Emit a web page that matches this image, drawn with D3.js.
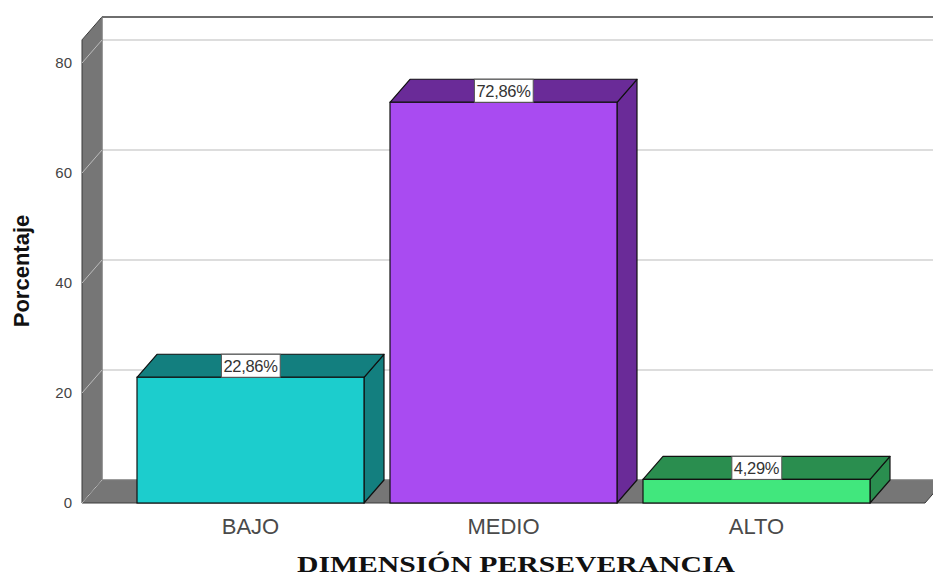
<!DOCTYPE html>
<html>
<head>
<meta charset="utf-8">
<script src="https://cdn.jsdelivr.net/npm/d3@7"></script>
<style>
  html, body { margin: 0; padding: 0; background: #ffffff; }
  svg { display: block; }
</style>
</head>
<body>
<svg id="chart" width="933" height="578"></svg>
<script>
// Porcentaje por nivel de la dimensión perseverancia
const categories = ["BAJO", "MEDIO", "ALTO"];
const percentages = [22.86, 72.86, 4.29];
const valueLabels = ["22,86%", "72,86%", "4,29%"];
const yTicks = [0, 20, 40, 60, 80];
const frontColors = ["#1ccdcd", "#a94bf1", "#41e77d"];
const sideColors = ["#137f7f", "#6a2b98", "#2a8e4f"];

const svg = d3.select("#chart");
const W = 933, H = 578;

// front plane of the 3D box and its depth offset
const left = 82, right = 925, base = 503;
const dx = 20, dy = -23;

const y = d3.scaleLinear().domain([0, 80]).range([base, 63]);
const yMax = 84.2;
const x = d3.scaleBand().domain(categories).range([left, right])
  .paddingInner(0.1028).paddingOuter(0.2174);

const g = svg.append("g");
const poly = pts => pts.map(p => p.join(",")).join(" ");

// back wall gridlines
yTicks.forEach(t => {
  if (t > 0) {
    g.append("line")
      .attr("x1", left + dx).attr("x2", W)
      .attr("y1", y(t) + dy).attr("y2", y(t) + dy)
      .attr("stroke", "#d2d2d2").attr("stroke-width", 1.5);
  }
});

// top edge of the back wall
g.append("line")
  .attr("x1", left + dx).attr("x2", W)
  .attr("y1", y(yMax) + dy).attr("y2", y(yMax) + dy)
  .attr("stroke", "#6e6e6e").attr("stroke-width", 2);

// left wall
g.append("polygon")
  .attr("points", poly([[left, y(yMax)], [left + dx, y(yMax) + dy], [left + dx, base + dy], [left, base]]))
  .attr("fill", "#767676").attr("stroke", "#3a3a3a").attr("stroke-width", 1);

// floor
g.append("polygon")
  .attr("points", poly([[left, base], [left + dx, base + dy], [right + dx, base + dy], [right, base]]))
  .attr("fill", "#767676").attr("stroke", "#3a3a3a").attr("stroke-width", 1);

// inner edges of the wall and floor
g.append("line")
  .attr("x1", left + dx).attr("x2", left + dx)
  .attr("y1", y(yMax) + dy).attr("y2", base + dy)
  .attr("stroke", "#9a9a9a").attr("stroke-width", 1);
g.append("line")
  .attr("x1", left + dx).attr("x2", right + dx)
  .attr("y1", base + dy).attr("y2", base + dy)
  .attr("stroke", "#9a9a9a").attr("stroke-width", 1);

// diagonal grid on the left wall
yTicks.forEach(t => {
  g.append("line")
    .attr("x1", left).attr("y1", y(t))
    .attr("x2", left + dx).attr("y2", y(t) + dy)
    .attr("stroke", "#bdbdbd").attr("stroke-width", 1);
});

// y tick labels
g.selectAll("text.ytick").data(yTicks).join("text")
  .attr("class", "ytick")
  .attr("x", left - 10).attr("y", d => y(d))
  .attr("dy", "0.35em")
  .attr("text-anchor", "end")
  .attr("font-family", "Arial, 'Liberation Sans', sans-serif")
  .attr("font-size", 15)
  .attr("fill", "#444")
  .text(d => d);

// bars
const bars = g.selectAll("g.bar").data(categories).join("g").attr("class", "bar");
bars.each(function (c, i) {
  const b = d3.select(this);
  const x0 = x(c), x1 = x(c) + x.bandwidth();
  const yt = y(percentages[i]);
  // right side
  b.append("polygon")
    .attr("points", poly([[x1, yt], [x1 + dx, yt + dy], [x1 + dx, base + dy], [x1, base]]))
    .attr("fill", sideColors[i]).attr("stroke", "#111").attr("stroke-width", 1.2)
    .attr("stroke-linejoin", "round");
  // top
  b.append("polygon")
    .attr("points", poly([[x0, yt], [x0 + dx, yt + dy], [x1 + dx, yt + dy], [x1, yt]]))
    .attr("fill", sideColors[i]).attr("stroke", "#111").attr("stroke-width", 1.2)
    .attr("stroke-linejoin", "round");
  // front
  b.append("rect")
    .attr("x", x0).attr("y", yt)
    .attr("width", x1 - x0).attr("height", base - yt)
    .attr("fill", frontColors[i]).attr("stroke", "#111").attr("stroke-width", 1.2);

  // value label on the top face
  const cx = (x0 + x1) / 2;
  const label = b.append("g");
  const txt = label.append("text")
    .attr("x", cx).attr("y", yt + dy / 2)
    .attr("dy", "0.36em")
    .attr("text-anchor", "middle")
    .attr("font-family", "Arial, 'Liberation Sans', sans-serif")
    .attr("font-size", 16.5)
    .attr("letter-spacing", -0.3)
    .attr("fill", "#333")
    .text(valueLabels[i]);
  const bb = txt.node().getBBox();
  label.insert("rect", "text")
    .attr("x", bb.x - 2).attr("y", yt + dy)
    .attr("width", bb.width + 4).attr("height", -dy)
    .attr("fill", "#fff").attr("stroke", "#555").attr("stroke-width", 1);
});

// category labels
g.selectAll("text.xcat").data(categories).join("text")
  .attr("class", "xcat")
  .attr("x", d => x(d) + x.bandwidth() / 2)
  .attr("y", 534)
  .attr("text-anchor", "middle")
  .attr("font-family", "Arial, 'Liberation Sans', sans-serif")
  .attr("font-size", 22)
  .attr("fill", "#4a4a4a")
  .text(d => d);

// axis titles
svg.append("text")
  .attr("transform", "translate(29,271) rotate(-90)")
  .attr("text-anchor", "middle")
  .attr("font-family", "Arial, 'Liberation Sans', sans-serif")
  .attr("font-weight", "bold")
  .attr("font-size", 22)
  .attr("fill", "#111")
  .text("Porcentaje");

svg.append("text")
  .attr("x", 516).attr("y", 572)
  .attr("text-anchor", "middle")
  .attr("font-family", "'Liberation Serif', 'Times New Roman', serif")
  .attr("font-weight", "bold")
  .attr("font-size", 24)
  .attr("textLength", 438)
  .attr("lengthAdjust", "spacingAndGlyphs")
  .attr("fill", "#111")
  .text("DIMENSIÓN PERSEVERANCIA");
</script>
</body>
</html>
